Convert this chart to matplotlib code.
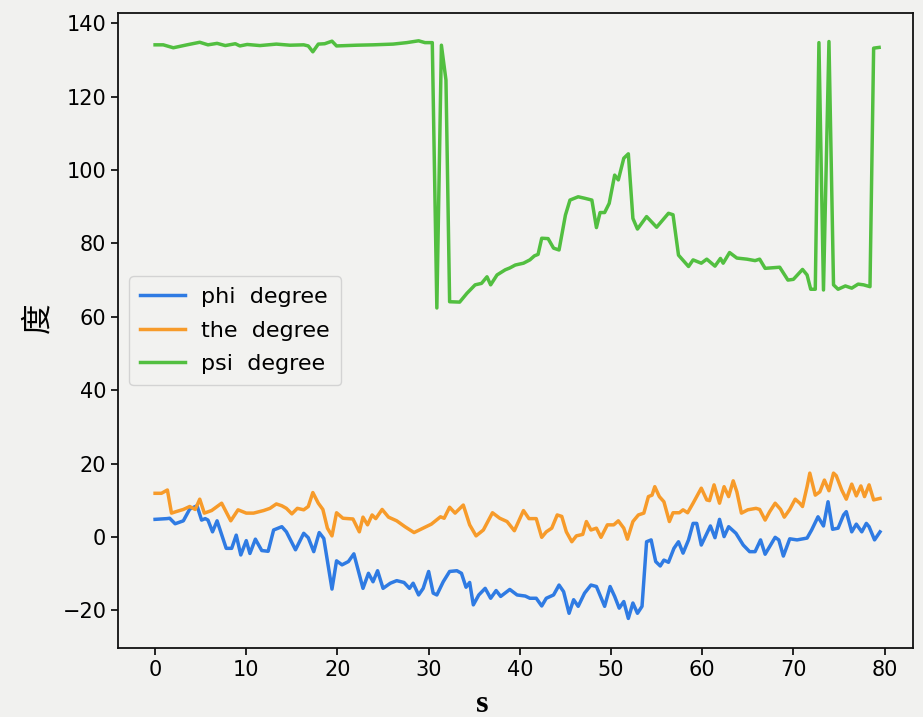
import matplotlib
matplotlib.use("Agg")
import matplotlib.pyplot as plt

phi_x = [0.0, 1.3, 1.6, 2.2, 3.1, 3.8, 4.6, 5.1, 5.5, 5.8, 6.3, 6.8, 7.8, 8.4, 8.9, 9.4, 10.0, 10.4, 11.0, 11.7,
         12.4, 13.0, 13.9, 14.4, 15.4, 16.3, 16.8, 17.4, 18.0, 18.5, 19.4, 19.9, 20.5, 21.2, 21.8, 22.8, 23.4, 23.9,
         24.4, 25.0, 25.8, 26.5, 27.3, 27.9, 28.3, 28.9, 29.4, 30.0, 30.5, 30.9, 31.6, 32.3, 33.1, 33.6, 34.1, 34.5,
         34.9, 35.5, 36.2, 36.8, 37.4, 37.9, 38.9, 39.7, 40.6, 41.1, 41.8, 42.4, 42.9, 43.7, 44.3, 44.8, 45.4, 45.9,
         46.4, 47.1, 47.8, 48.4, 49.0, 49.3, 49.9, 50.4, 50.9, 51.4, 51.9, 52.4, 52.9, 53.4, 53.9, 54.4, 54.9, 55.4,
         55.8, 56.3, 56.9, 57.4, 57.9, 58.5, 59.0, 59.4, 59.9, 60.5, 60.9, 61.4, 61.9, 62.4, 62.9, 63.7, 64.5, 65.2,
         65.8, 66.4, 66.9, 68.0, 68.4, 68.9, 69.6, 70.4, 71.5, 72.0, 72.7, 73.3, 73.8, 74.3, 74.9, 75.5, 75.8, 76.4,
         76.9, 77.5, 78.0, 78.3, 78.9, 79.5]
phi_y = [4.8, 5.0, 5.1, 3.6, 4.4, 7.6, 8.5, 4.6, 5.0, 4.6, 1.4, 4.4, -3.1, -3.1, 0.5, -4.9, -1.0, -4.5, -0.6, -3.7,
         -3.9, 1.9, 2.8, 1.4, -3.5, 1.0, -0.2, -4.0, 1.2, -0.4, -14.2, -6.5, -7.6, -6.7, -4.6, -14.0, -9.9, -12.2,
         -9.2, -14.0, -12.6, -11.9, -12.4, -14.0, -12.6, -15.8, -14.0, -9.4, -15.3, -15.8, -12.2, -9.4, -9.2, -9.9, -13.7, -12.4,
         -18.5, -15.8, -14.0, -16.7, -14.6, -16.2, -14.3, -15.8, -16.1, -16.7, -16.7, -18.8, -16.7, -15.8, -13.1, -14.9, -20.8, -17.1,
         -18.9, -15.3, -13.1, -13.5, -17.1, -18.9, -13.5, -16.2, -19.4, -17.6, -22.2, -18.0, -20.8, -18.9, -1.3, -0.8, -6.7, -7.9,
         -6.3, -6.9, -3.1, -1.3, -4.4, -0.8, 3.7, 3.7, -2.2, 0.9, 3.0, -0.2, 4.8, 0.1, 2.8, 1.0, -2.2, -4.0,
         -4.0, -0.8, -4.7, -0.1, -0.8, -5.2, -0.5, -0.8, -0.3, 1.9, 5.5, 3.0, 9.6, 2.1, 2.4, 6.0, 6.9, 1.4,
         3.5, 1.4, 3.7, 2.8, -0.8, 1.4]

the_x = [0.0, 0.7, 1.35, 1.8, 2.3, 3.1, 3.8, 4.4, 4.9, 5.4, 6.2, 7.3, 8.3, 9.1, 10.0, 10.8, 11.9, 12.6, 13.3, 13.9,
         14.4, 15.0, 15.6, 16.3, 16.8, 17.3, 17.9, 18.4, 18.9, 19.4, 19.9, 20.6, 21.7, 22.4, 22.8, 23.3, 23.8, 24.2,
         24.9, 25.6, 26.5, 27.4, 28.4, 29.4, 30.3, 31.3, 31.7, 32.3, 32.9, 33.8, 34.5, 35.2, 36.0, 37.0, 37.8, 38.6,
         39.4, 40.4, 41.0, 41.8, 42.4, 42.9, 43.5, 44.1, 44.6, 45.1, 45.7, 46.2, 46.9, 47.3, 47.8, 48.4, 48.9, 49.6,
         50.3, 50.8, 51.4, 51.8, 52.4, 53.0, 53.6, 54.1, 54.5, 54.8, 55.3, 55.8, 56.4, 56.8, 57.5, 57.9, 58.4, 59.0,
         59.9, 60.5, 60.8, 61.3, 61.9, 62.4, 62.9, 63.4, 63.8, 64.3, 65.0, 65.9, 66.3, 66.9, 67.4, 68.0, 68.6, 69.0,
         69.6, 70.2, 70.7, 71.0, 71.5, 71.8, 72.4, 72.9, 73.4, 73.9, 74.4, 74.7, 75.3, 75.8, 76.4, 76.9, 77.4, 77.8,
         78.3, 78.8, 79.5]
the_y = [11.9, 11.9, 12.8, 6.5, 6.9, 7.5, 8.3, 7.5, 10.3, 6.5, 7.2, 9.2, 4.4, 7.4, 6.5, 6.5, 7.2, 7.8, 9.0, 8.5,
         7.8, 6.3, 7.8, 7.4, 8.3, 12.1, 9.2, 7.5, 2.4, 0.3, 6.6, 5.1, 4.9, 1.4, 5.4, 3.3, 6.0, 5.0,
         7.5, 5.4, 4.4, 2.8, 1.2, 2.4, 3.5, 5.5, 5.1, 8.1, 6.5, 8.7, 3.3, 0.3, 1.9, 6.6, 5.1, 4.2,
         1.7, 7.2, 5.0, 5.0, -0.1, 1.4, 2.4, 6.0, 5.6, 1.4, -1.3, 0.3, 0.7, 4.2, 1.9, 2.4, -0.1, 3.3,
         3.3, 4.4, 2.4, -0.6, 4.2, 6.0, 6.5, 11.0, 11.4, 13.7, 11.0, 9.6, 4.2, 6.6, 6.6, 7.4, 6.6, 9.2,
         13.3, 10.1, 9.9, 14.2, 9.2, 13.7, 11.0, 15.3, 12.3, 6.5, 7.4, 7.8, 7.5, 4.6, 6.9, 9.2, 7.5, 5.4,
         7.5, 10.3, 9.2, 8.3, 13.7, 17.4, 11.4, 12.3, 15.5, 12.6, 17.4, 16.7, 12.8, 10.3, 14.4, 11.2, 13.9, 11.0,
         14.2, 10.1, 10.5]

psi_x = [0.0, 0.9, 2.0, 3.5, 4.9, 5.8, 6.8, 7.7, 8.8, 9.3, 10.1, 11.5, 13.3, 14.8, 16.3, 16.8, 17.3, 17.9, 18.6, 19.4,
         19.9, 22.1, 23.9, 26.1, 27.6, 28.9, 29.6, 30.4, 30.9, 31.4, 31.9, 32.3, 33.4, 34.2, 35.1, 35.8, 36.4, 36.8,
         37.5, 38.4, 38.9, 39.5, 40.4, 41.1, 41.6, 42.0, 42.4, 43.1, 43.7, 44.3, 45.0, 45.5, 46.4, 47.1, 47.9, 48.4,
         48.8, 49.3, 49.8, 50.4, 50.8, 51.4, 51.9, 52.4, 52.9, 53.9, 55.0, 56.3, 56.8, 57.4, 58.5, 59.0, 59.9, 60.5,
         61.4, 62.0, 62.3, 63.0, 63.8, 64.9, 65.8, 66.3, 66.9, 68.5, 69.4, 70.0, 71.0, 71.5, 71.9, 72.4, 72.8, 73.3,
         73.9, 74.4, 74.9, 75.7, 76.4, 77.1, 77.7, 78.4, 78.8, 79.4]
psi_y = [134.1, 134.1, 133.3, 134.1, 134.8, 134.1, 134.5, 133.9, 134.4, 133.8, 134.2, 133.9, 134.3, 134.0, 134.1, 133.8, 132.2, 134.3, 134.4, 135.1,
         133.8, 134.0, 134.1, 134.3, 134.7, 135.2, 134.7, 134.7, 62.4, 134.0, 124.5, 64.1, 64.0, 66.4, 68.7, 69.1, 70.9, 68.7,
         71.4, 72.8, 73.3, 74.1, 74.6, 75.5, 76.6, 77.0, 81.4, 81.3, 78.7, 78.2, 87.7, 91.8, 92.7, 92.3, 91.8, 84.3,
         88.4, 88.4, 90.9, 98.6, 97.3, 103.2, 104.4, 86.8, 83.9, 87.3, 84.4, 88.2, 87.8, 76.8, 73.7, 75.5, 74.6, 75.7,
         73.8, 75.9, 74.6, 77.5, 76.0, 75.7, 75.3, 75.7, 73.2, 73.5, 70.0, 70.2, 72.9, 71.4, 67.5, 67.5, 134.7, 67.3,
         135.0, 68.7, 67.5, 68.4, 67.8, 68.9, 68.7, 68.2, 133.2, 133.4]

labels = ["phi  degree", "the  degree", "psi  degree"]
x_ticks = [0, 10, 20, 30, 40, 50, 60, 70, 80]
y_ticks = [-20, 0, 20, 40, 60, 80, 100, 120, 140]

bg = "#f1f1ef"
fig = plt.figure(figsize=(9.23, 7.17), dpi=100, facecolor=bg)
ax = fig.add_axes([0.128, 0.096, 0.861, 0.886], facecolor="#f2f2f0")

ax.plot(phi_x, phi_y, color="#2f7be3", lw=2.5, label=labels[0])
ax.plot(the_x, the_y, color="#f79b2a", lw=2.5, label=labels[1])
ax.plot(psi_x, psi_y, color="#52bf40", lw=2.5, label=labels[2])

ax.set_xlim(-4.05, 83.1)
ax.set_ylim(-30.3, 142.8)
ax.set_xticks(x_ticks)
ax.set_yticks(y_ticks)
ax.tick_params(labelsize=15, length=5, width=1.2, colors="black")
for sp in ax.spines.values():
    sp.set_linewidth(1.3)
    sp.set_color("#111111")

leg = ax.legend(loc="center left", fontsize=16, frameon=True, fancybox=True,
                handlelength=2.0, handletextpad=0.75, labelspacing=0.6, borderaxespad=0.5,
                borderpad=0.5, facecolor="#f2f2f0", edgecolor="#cccccc")

fig.text(38 / 923, 1 - 318 / 717, "度", fontsize=22, rotation=90,
         family=["Noto Sans CJK SC", "DejaVu Sans"], ha="center", va="center")
fig.text(482 / 923, 1 - 704 / 717, "s", fontsize=23, family="Liberation Serif",
         fontweight="bold", ha="center", va="center")

fig.savefig("out.png", dpi=100, facecolor=bg)
